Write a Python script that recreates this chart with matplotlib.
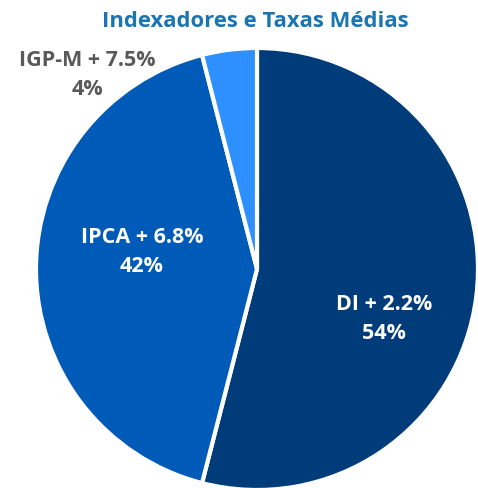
import matplotlib.pyplot as plt

# data
labels = ["DI + 2.2%", "IPCA + 6.8%", "IGP-M + 7.5%"]
shares = [54, 42, 4]
colors = ["#003B7A", "#005BB8", "#2E90FF"]

plt.rcParams['font.family'] = ['Open Sans', 'DejaVu Sans']

fig = plt.figure(figsize=(4.78, 4.89), dpi=100)
ax = fig.add_axes([0, 0, 1, 1])

cx, cy, r = 257, 219, 221
ax.pie(shares, colors=colors, startangle=90, counterclock=False,
       center=(cx, cy), radius=r,
       wedgeprops=dict(edgecolor='white', linewidth=3))

ax.set_xlim(0, 478)
ax.set_ylim(0, 489)
ax.set_aspect('equal')
ax.axis('off')

# label positions (offset from center, px)
pos = [(127, -49, 'white'), (-115, 18, 'white'), (-170, 195, '#595959')]
for lab, s, (dx, dy, c) in zip(labels, shares, pos):
    ax.text(cx + dx, cy + dy, f"{lab}\n{s}%", ha='center', va='center',
            color=c, fontsize=15.5, fontweight='bold', linespacing=1.55)

fig.text(0.535, 0.956, "Indexadores e Taxas Médias", ha='center', va='center',
         color='#1A75B0', fontsize=15.8, fontweight='bold')

fig.savefig("out.png", dpi=100)
